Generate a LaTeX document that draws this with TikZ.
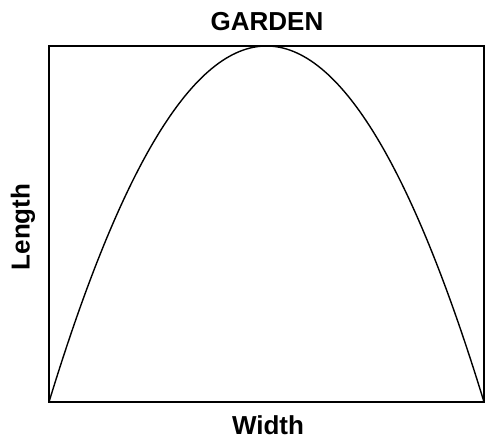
\documentclass[tikz,border=0pt]{standalone}
\usepackage{fontspec}
\setmainfont{Liberation Sans}
\usetikzlibrary{positioning}

\begin{document}
\begin{tikzpicture}[x=1pt, y=-1pt, line width=1.4pt,
    lbl/.style={font=\bfseries\fontsize{26}{30}\selectfont, inner sep=0pt}]
            \useasboundingbox (0,0) rectangle (485,440);
            % Garden plot
            \draw (49,46) rectangle (484,402);
            
            % Parabola (width vs length)
            \draw (49,402) .. controls (194,-72.67) and (339,-72.67) .. (484,402);
            
            % Labels
            \node[lbl, anchor=base] (title) at (267,30) {GARDEN};
            \node[lbl, anchor=base] (width) at (268,434) {Width};
            \node[lbl, rotate=90] (length) at (23,227) {Length};
        \end{tikzpicture}
\end{document}
